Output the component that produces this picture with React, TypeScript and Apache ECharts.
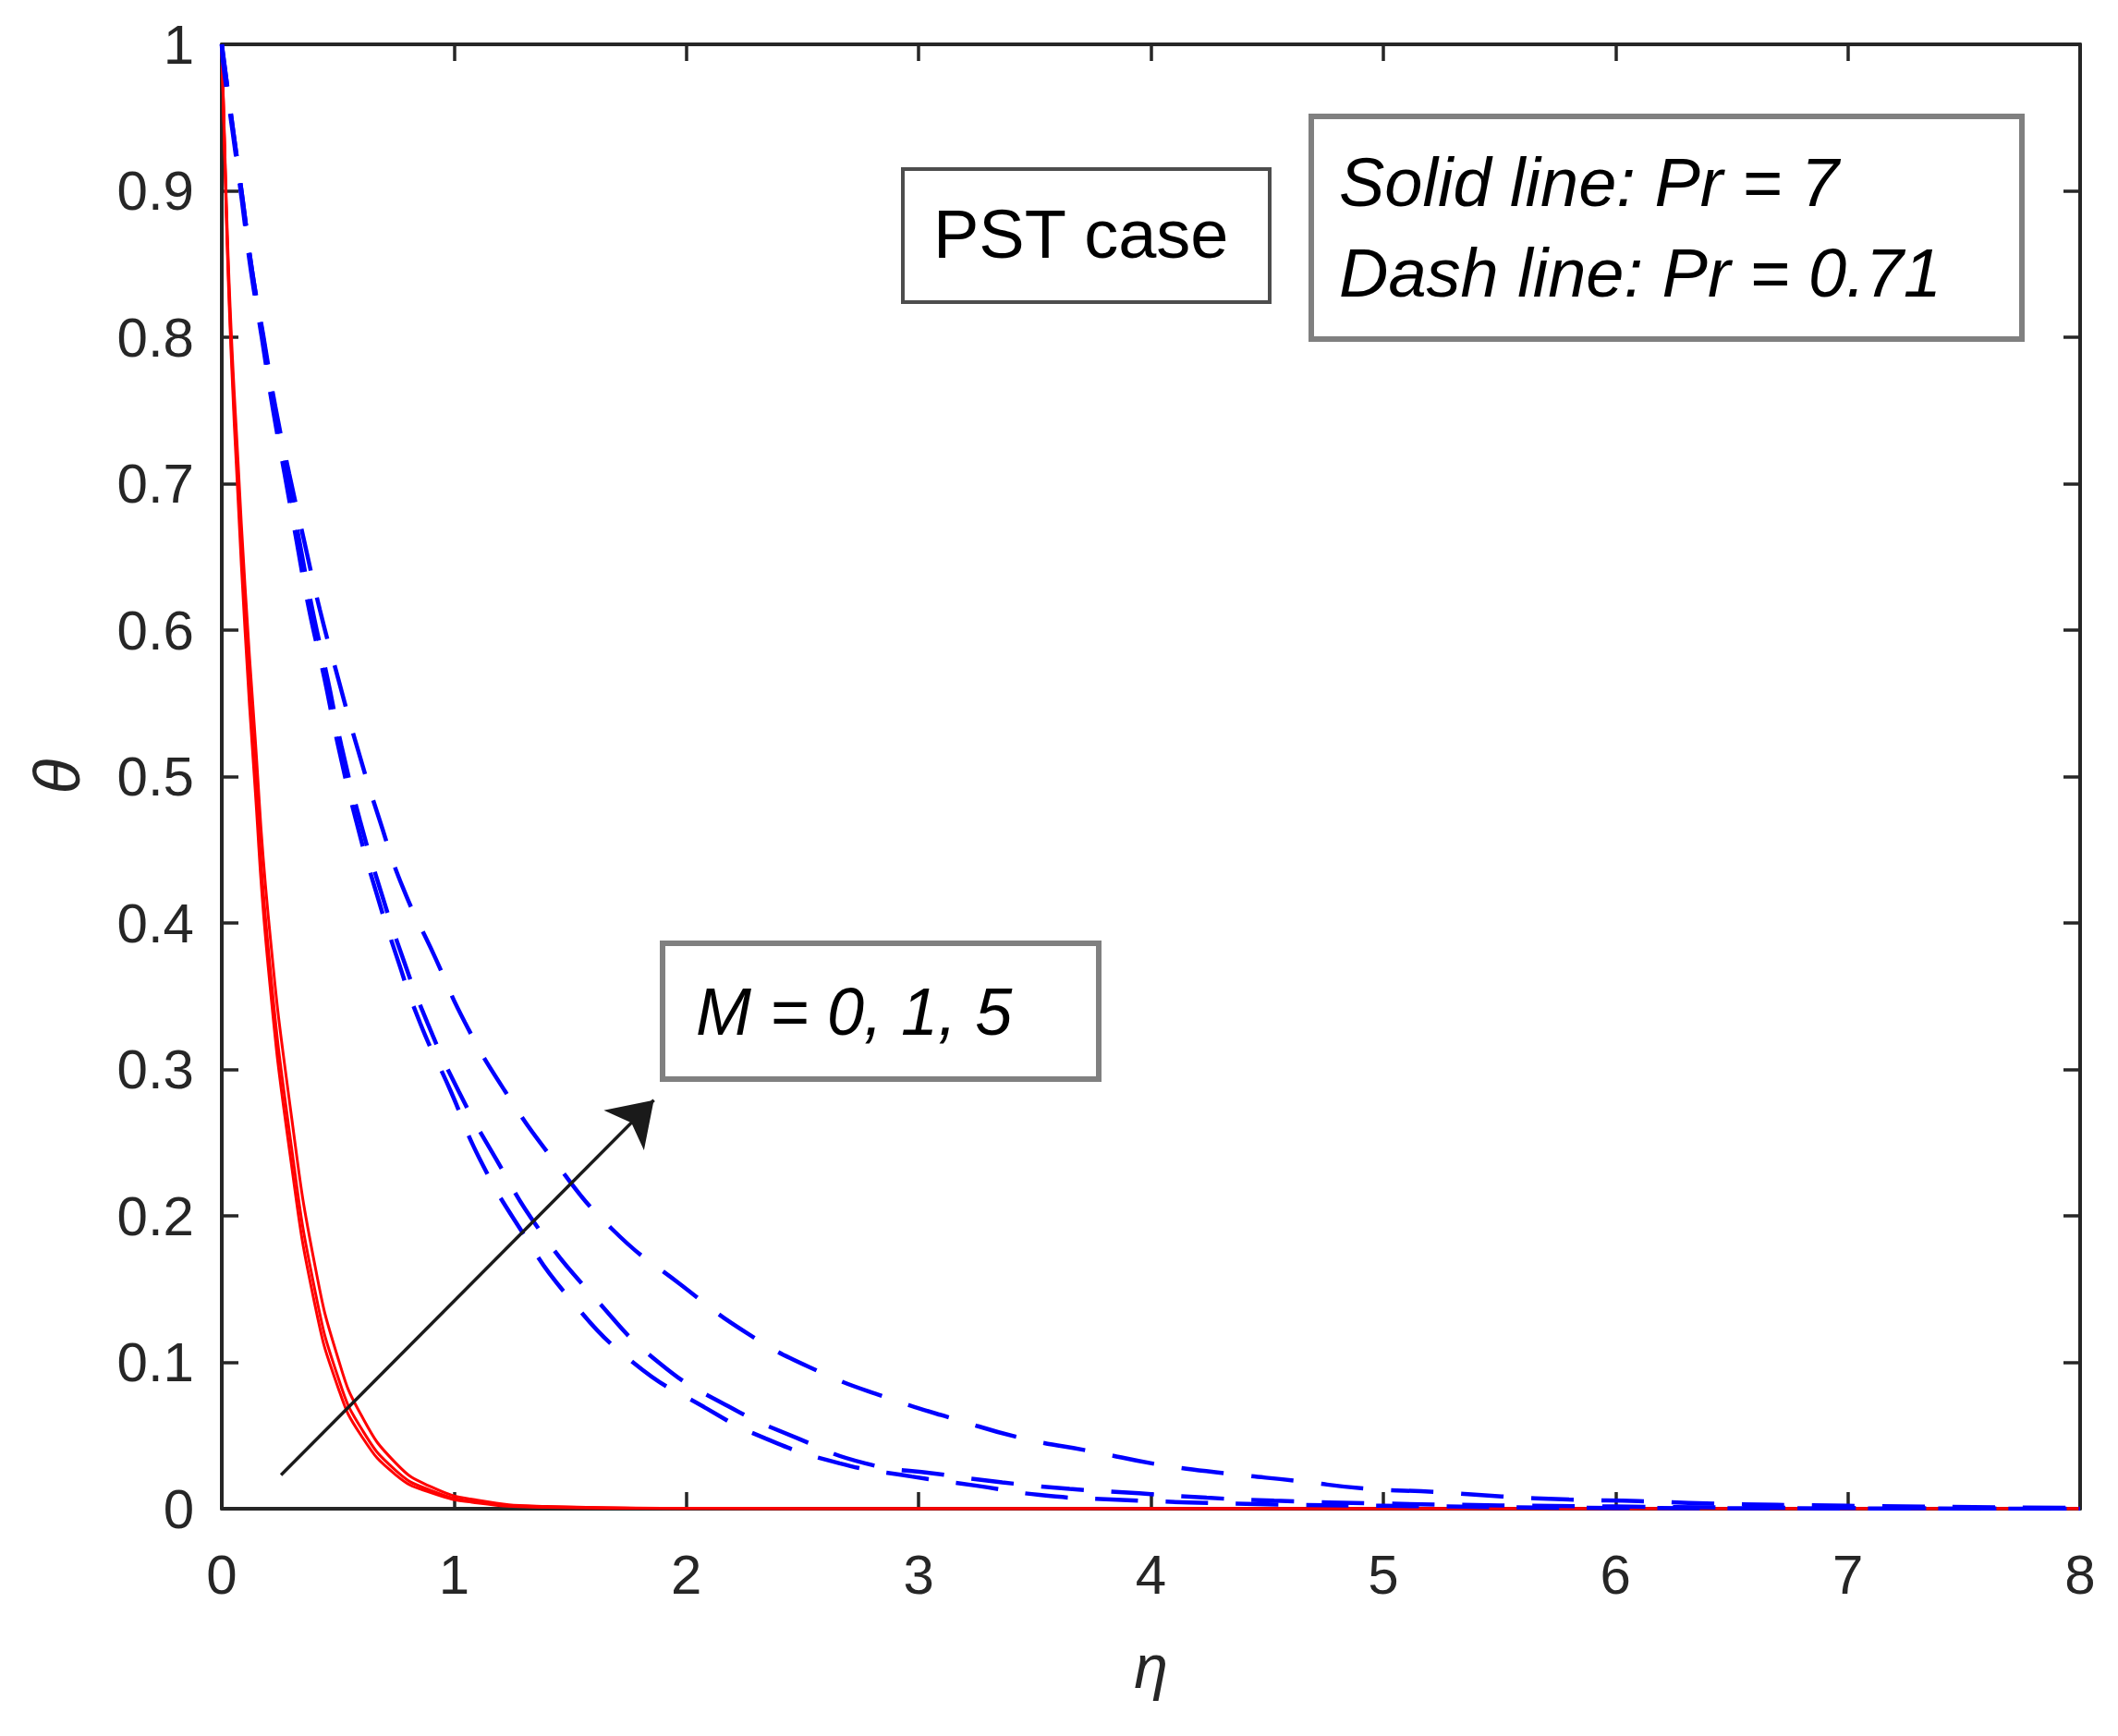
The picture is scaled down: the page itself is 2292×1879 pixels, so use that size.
import React, { useEffect, useRef } from "react";
import * as echarts from "echarts";

const FONT = '"Liberation Sans", Arial, Helvetica, sans-serif';

// axis ticks
const xTickValues = [0, 1, 2, 3, 4, 5, 6, 7, 8];
const yTickLabels = ["0", "0.1", "0.2", "0.3", "0.4", "0.5", "0.6", "0.7", "0.8", "0.9", "1"];

// Solid lines: Pr = 7 (red), M = 0, 1, 5
const etaRed = [0, 0.02, 0.04, 0.07, 0.1, 0.14, 0.2, 0.3, 0.4, 0.5, 0.6, 0.75, 0.9, 1.1, 1.4, 2, 3, 4, 5, 6, 7, 8];
const thetaRedM0 = [1, 0.88, 0.79, 0.69, 0.6, 0.5, 0.37, 0.235, 0.14, 0.083, 0.05, 0.023, 0.011, 0.004, 0.001, 0.0002, 0, 0, 0, 0, 0, 0];
const thetaRedM1 = [1, 0.885, 0.797, 0.7, 0.612, 0.513, 0.383, 0.247, 0.15, 0.09, 0.055, 0.026, 0.0125, 0.0045, 0.0012, 0.0002, 0, 0, 0, 0, 0, 0];
const thetaRedM5 = [1, 0.89, 0.806, 0.715, 0.63, 0.535, 0.405, 0.268, 0.167, 0.103, 0.064, 0.031, 0.015, 0.0058, 0.0016, 0.0003, 0, 0, 0, 0, 0, 0];

// Dash lines: Pr = 0.71 (blue), M = 0, 1, 5
const etaBlueM0 = [0, 0.0066, 0.046, 0.086, 0.125, 0.172, 0.218, 0.27, 0.323, 0.376, 0.442, 0.501, 0.578, 0.659, 0.751, 0.853, 0.986, 1.11, 1.285, 1.49, 1.77, 2.07, 2.34, 2.66, 2.97, 3.25, 3.52, 3.83, 4.5, 5, 6, 7, 8];
const thetaBlueM0 = [1, 0.986, 0.941, 0.894, 0.846, 0.8, 0.753, 0.707, 0.66, 0.614, 0.567, 0.521, 0.47, 0.424, 0.378, 0.332, 0.285, 0.239, 0.191, 0.145, 0.1, 0.07, 0.048, 0.031, 0.022, 0.0157, 0.0094, 0.0063, 0.003, 0.002, 0.0005, 0.0002, 0];

const etaBlueM1 = [0, 0.05, 0.09, 0.13, 0.178, 0.225, 0.28, 0.335, 0.39, 0.455, 0.515, 0.595, 0.68, 0.775, 0.885, 1.02, 1.18, 1.365, 1.6, 1.88, 2.18, 2.48, 2.77, 3.07, 3.36, 3.65, 3.95, 4.24, 4.53, 5, 6, 7, 8];
const thetaBlueM1 = [1, 0.94, 0.894, 0.846, 0.8, 0.753, 0.707, 0.66, 0.614, 0.567, 0.521, 0.47, 0.424, 0.378, 0.332, 0.285, 0.239, 0.191, 0.145, 0.1, 0.07, 0.048, 0.031, 0.024, 0.018, 0.0136, 0.0105, 0.0075, 0.0055, 0.0035, 0.0015, 0.0005, 0];

const etaBlueM5 = [0, 0.05, 0.09, 0.13, 0.18, 0.23, 0.29, 0.356, 0.422, 0.501, 0.581, 0.68, 0.78, 0.914, 1.047, 1.22, 1.424, 1.68, 1.976, 2.27, 2.567, 2.87, 3.16, 3.45, 3.75, 4.04, 4.33, 4.63, 4.93, 5.22, 5.51, 5.8, 6.1, 6.39, 7, 8];
const thetaBlueM5 = [1, 0.94, 0.894, 0.846, 0.8, 0.753, 0.707, 0.66, 0.614, 0.567, 0.521, 0.47, 0.424, 0.378, 0.332, 0.285, 0.239, 0.191, 0.153, 0.119, 0.094, 0.0755, 0.061, 0.048, 0.039, 0.03, 0.024, 0.019, 0.0136, 0.0115, 0.0084, 0.0063, 0.0052, 0.0036, 0.002, 0.0005];

// arrow annotation (data coordinates)
const arrowFrom = [0.255, 0.023];
const arrowTo = [1.86, 0.279];

function curve(name: string, etas: number[], thetas: number[], color: string, dashed: boolean) {
  return {
    type: "line",
    name,
    data: etas.map((e, i) => [e, thetas[i]]),
    showSymbol: false,
    symbol: "none",
    smooth: 0.5,
    silent: true,
    clip: true,
    z: dashed ? 3 : 2,
    lineStyle: { color, width: dashed ? 4.5 : 3, type: dashed ? [46, 30] : "solid" },
  };
}

const axisLineStyle = { show: true, onZero: false, lineStyle: { color: "#262626", width: 4 } };
const axisTickStyle = { show: true, inside: true, length: 18, lineStyle: { color: "#262626", width: 3.5 } };

export default function App() {
  const ref = useRef<HTMLDivElement>(null);
  useEffect(() => {
    if (!ref.current) return;
    const chart = echarts.init(ref.current, null, { renderer: "svg" });
    const option: any = {
      animation: false,
      backgroundColor: "#ffffff",
      textStyle: { fontFamily: FONT },
      grid: { left: 240, top: 48, right: 41, bottom: 246, containLabel: false },
      xAxis: [
        {
          type: "value", min: 0, max: 8, interval: 1, position: "bottom",
          axisLine: axisLineStyle, axisTick: axisTickStyle, splitLine: { show: false },
          axisLabel: {
            fontSize: 60, color: "#262626", margin: 41, fontFamily: FONT,
            formatter: (v: number) => String(xTickValues[Math.round(v)]),
          },
          name: "η", nameLocation: "middle", nameGap: 171,
          nameTextStyle: { fontSize: 66, fontStyle: "italic", color: "#262626", verticalAlign: "middle", fontFamily: FONT },
        },
        {
          type: "value", min: 0, max: 8, interval: 1, position: "top",
          axisLine: axisLineStyle, axisTick: axisTickStyle, splitLine: { show: false }, axisLabel: { show: false },
        },
      ],
      yAxis: [
        {
          type: "value", min: 0, max: 1, interval: 0.1, position: "left",
          axisLine: axisLineStyle, axisTick: axisTickStyle, splitLine: { show: false },
          axisLabel: {
            fontSize: 60, color: "#262626", margin: 30, fontFamily: FONT,
            formatter: (v: number) => yTickLabels[Math.round(v * 10)],
          },
          name: "θ", nameLocation: "middle", nameGap: 178, nameRotate: 90,
          nameTextStyle: { fontSize: 70, fontStyle: "italic", color: "#262626", verticalAlign: "middle", align: "center", fontFamily: FONT },
        },
        {
          type: "value", min: 0, max: 1, interval: 0.1, position: "right",
          axisLine: axisLineStyle, axisTick: axisTickStyle, splitLine: { show: false }, axisLabel: { show: false },
        },
      ],
      series: [
        curve("Pr=7, M=0", etaRed, thetaRedM0, "#ff0000", false),
        curve("Pr=7, M=1", etaRed, thetaRedM1, "#ff0000", false),
        curve("Pr=7, M=5", etaRed, thetaRedM5, "#ff0000", false),
        curve("Pr=0.71, M=0", etaBlueM0, thetaBlueM0, "#0000ff", true),
        curve("Pr=0.71, M=1", etaBlueM1, thetaBlueM1, "#0000ff", true),
        curve("Pr=0.71, M=5", etaBlueM5, thetaBlueM5, "#0000ff", true),
        {
          type: "line", data: [], silent: true, z: 4,
          markLine: {
            silent: true, animation: false,
            symbol: ["none", "arrow"], symbolSize: 46,
            label: { show: false },
            lineStyle: { color: "#1a1a1a", width: 3.5, type: "solid" },
            data: [[{ coord: arrowFrom }, { coord: arrowTo }]],
          },
        },
      ],
      graphic: [
        { type: "rect", z: 10, shape: { x: 977, y: 183, width: 397, height: 144 }, style: { fill: "#ffffff", stroke: "#4d4d4d", lineWidth: 4 } },
        { type: "text", z: 11, x: 1010, y: 253, style: { text: "PST case", font: `74px ${FONT}`, fill: "#000000", textVerticalAlign: "middle" } },
        { type: "rect", z: 10, shape: { x: 1419, y: 126, width: 769, height: 241 }, style: { fill: "#ffffff", stroke: "#808080", lineWidth: 6 } },
        { type: "text", z: 11, x: 1449, y: 197, style: { text: "Solid line: Pr = 7", font: `italic 74px ${FONT}`, fill: "#000000", textVerticalAlign: "middle" } },
        { type: "text", z: 11, x: 1449, y: 295, style: { text: "Dash line: Pr = 0.71", font: `italic 74px ${FONT}`, fill: "#000000", textVerticalAlign: "middle" } },
        { type: "rect", z: 10, shape: { x: 717, y: 1021, width: 472, height: 147 }, style: { fill: "#ffffff", stroke: "#808080", lineWidth: 6 } },
        { type: "text", z: 11, x: 753, y: 1095, style: { text: "M = 0, 1, 5", font: `italic 72px ${FONT}`, fill: "#000000", textVerticalAlign: "middle" } },
      ],
    };
    chart.setOption(option);
    return () => chart.dispose();
  }, []);
  return (
    <div
      ref={ref}
      style={{ position: "absolute", left: 0, top: 0, width: 2292, height: 1879, background: "#ffffff" }}
    />
  );
}
